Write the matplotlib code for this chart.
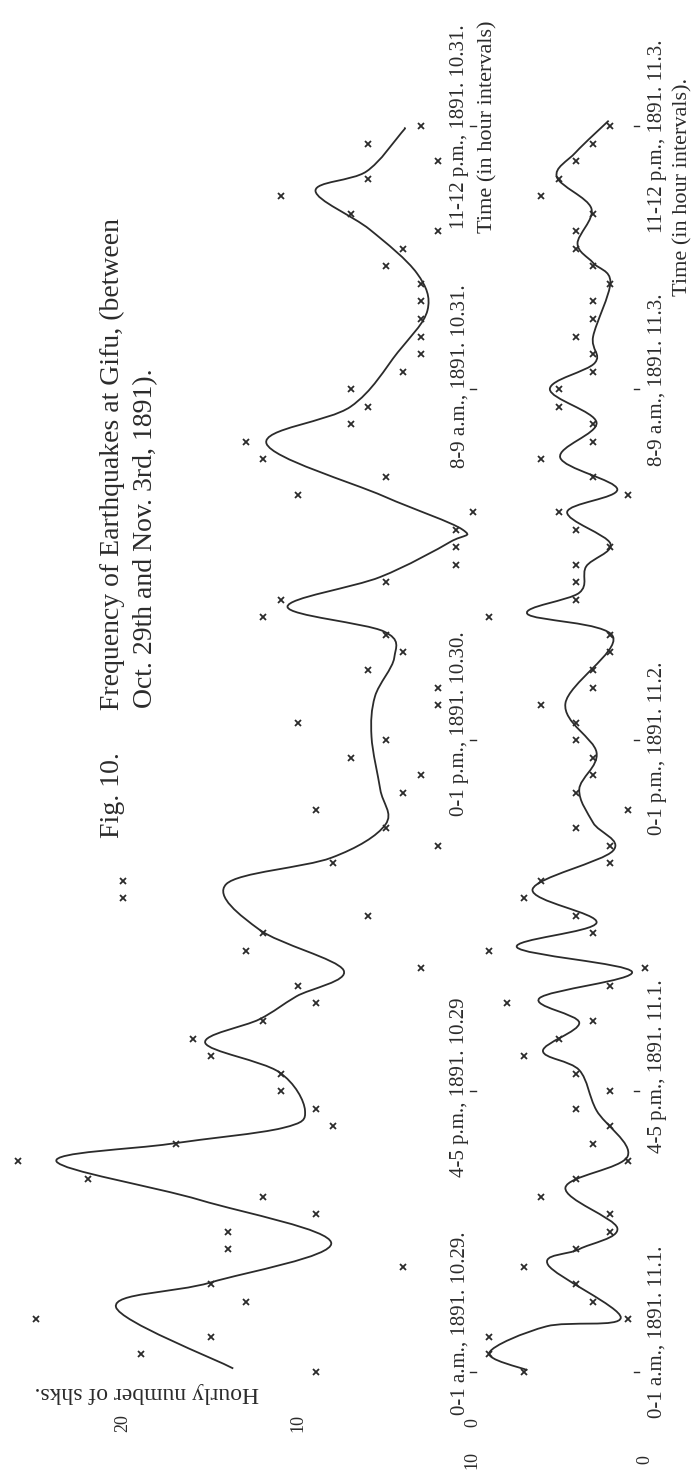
import numpy as np
import matplotlib
matplotlib.use("Agg")
import matplotlib.pyplot as plt
from matplotlib.path import Path
from matplotlib.patches import PathPatch

# hour index 0 = 0-1 a.m. on the first day of each run (72 hours per run)
hours = np.arange(72)

upper_counts = [9, 19, 15, 25, 13, 15, 4, 14, 14, 9, 12, 22, 26, 17, 8, 9, 11, 11,
                15, 16, 12, 9, 10, 3, 13, 12, 6, 20, 20, 8, 2, 5, 9, 4, 3, 7,
                5, 10, 2, 2, 6, 4, 5, 12, 11, 5, 1, 1, 1, 0, 10, 5, 12, 13,
                7, 6, 7, 4, 3, 3, 3, 3, 3, 5, 4, 2, 7, 11, 6, 2, 6, 3]
lower_counts = [7, 9, 9, 1, 3, 4, 7, 4, 2, 2, 6, 4, 1, 3, 2, 4, 2, 4,
                7, 5, 3, 8, 2, 0, 9, 3, 4, 7, 6, 2, 2, 4, 1, 4, 3, 3,
                4, 4, 6, 3, 3, 2, 2, 9, 4, 4, 4, 2, 4, 5, 1, 3, 6, 3,
                3, 5, 5, 3, 3, 4, 3, 3, 2, 3, 4, 4, 3, 6, 5, 4, 3, 2]

# hand-drawn smoothing curves (hour, count)
upper_curve_h = [0.2, 3.7, 5.1, 7.35, 9.8, 12.0, 13.0, 13.9, 14.9, 17.1, 18.75, 20.1,
                 21.4, 22.9, 25.2, 27.8, 29.3, 31.2, 33.2, 36.2, 38.5, 40.7, 42.2,
                 43.6, 45.3, 47.3, 48.0, 49.9, 52.9, 55.0, 58.1, 60.5, 62.6, 65.1,
                 67.3, 68.4, 70.6, 70.9]
upper_curve_v = [13.7, 20.4, 15.0, 8.1, 15.6, 23.8, 17.3, 10.9, 9.6, 11.1, 15.3, 12.2,
                 10.1, 7.4, 12.2, 14.1, 8.1, 5.0, 5.3, 5.8, 5.6, 4.5, 5.1,
                 10.6, 5.3, 1.3, 0.6, 5.1, 11.8, 7.0, 4.3, 2.6, 3.2, 5.9,
                 9.0, 6.1, 4.1, 3.9]
lower_curve_h = [0.1, 1.1, 2.6, 3.1, 6.1, 7.0, 8.2, 10.5, 12.3, 14.9, 17.2, 18.3, 19.9,
                 21.3, 22.8, 24.2, 25.6, 27.5, 29.7, 31.3, 33.2, 35.3, 38.1, 41.9,
                 43.2, 44.4, 45.9, 47.2, 49.0, 50.3, 52.1, 54.1, 56.0, 57.5, 59.0,
                 62.1, 63.2, 64.3, 66.3, 68.1, 69.5, 71.3]
lower_curve_v = [6.8, 9.0, 5.7, 1.4, 5.6, 3.8, 1.6, 4.6, 1.0, 2.8, 3.8, 5.9, 3.8,
                 6.1, 0.75, 7.4, 2.8, 6.5, 1.85, 3.0, 3.8, 2.8, 4.6, 1.85,
                 6.8, 3.8, 3.4, 2.0, 4.5, 1.6, 4.9, 2.8, 5.5, 2.9, 3.0,
                 2.0, 3.0, 3.9, 3.1, 5.1, 4.0, 2.1]

tick_hours = [0, 16, 36, 56, 71]
upper_labels = ["0-1 a.m., 1891. 10.29.", "4-5 p.m., 1891. 10.29", "0-1 p.m., 1891. 10.30.",
                "8-9 a.m., 1891. 10.31.", "11-12 p.m., 1891. 10.31."]
lower_labels = ["0-1 a.m., 1891. 11.1.", "4-5 p.m., 1891. 11.1.", "0-1 p.m., 1891. 11.2.",
                "8-9 a.m., 1891. 11.3.", "11-12 p.m., 1891. 11.3."]
# where each label text begins (in hours), they are not centred on the ticks
upper_label_start = [-2.45, 11.1, 31.7, 51.5, 65.1]
lower_label_start = [-2.6, 12.5, 30.6, 51.6, 64.9]

INK = "#2b2b2b"
SERIF = "Liberation Serif"


def smooth_path(xs, ys):
    pts = np.column_stack([xs, ys])
    verts = [pts[0]]
    codes = [Path.MOVETO]
    n = len(pts)
    for i in range(n - 1):
        p0 = pts[max(i - 1, 0)]
        p1 = pts[i]
        p2 = pts[i + 1]
        p3 = pts[min(i + 2, n - 1)]
        verts += [p1 + (p2 - p0) / 6.0, p2 - (p3 - p1) / 6.0, p2]
        codes += [Path.CURVE4] * 3
    return Path(verts, codes)


W, H = 697, 1481
fig = plt.figure(figsize=(W / 100, H / 100), dpi=100)

# time runs upward, counts increase to the left (the plate is printed sideways)
hour_lim = ((1372 - H) / 17.55, 1372 / 17.55)
ax_up = fig.add_axes([0, 0, 1, 1])
ax_up.set_xlim(473 / 17.5, (473 - W) / 17.5)
ax_up.set_ylim(*hour_lim)
ax_lo = fig.add_axes([0, 0, 1, 1])
ax_lo.set_xlim(645 / 17.3, (645 - W) / 17.3)
ax_lo.set_ylim(*hour_lim)
for ax in (ax_up, ax_lo):
    ax.set_axis_off()
    ax.patch.set_alpha(0)

for ax, counts, ch, cv in ((ax_up, upper_counts, upper_curve_h, upper_curve_v),
                           (ax_lo, lower_counts, lower_curve_h, lower_curve_v)):
    ax.add_patch(PathPatch(smooth_path(cv, ch), fill=False, edgecolor=INK, lw=1.3))
    ax.plot(counts, hours, ls="none", marker="x", ms=5, mew=1.3, color=INK)

# hour ticks and date labels
for h in tick_hours:
    ax_up.plot([-0.15, 0.15], [h, h], color=INK, lw=1)
    ax_lo.plot([0.35, 0.65], [h, h], color=INK, lw=1)
for lab, s in zip(upper_labels, upper_label_start):
    ax_up.text(0.75, s, lab, rotation=90, ha="center", va="bottom",
               family=SERIF, fontsize=15, color=INK)
for lab, s in zip(lower_labels, lower_label_start):
    ax_lo.text(-0.7, s, lab, rotation=90, ha="center", va="bottom",
               family=SERIF, fontsize=15, color=INK)
ax_up.text(-0.85, 64.9, "Time (in hour intervals)", rotation=90, ha="center", va="bottom",
           family=SERIF, fontsize=16, color=INK)
ax_lo.text(-2.2, 61.3, "Time (in hour intervals).", rotation=90, ha="center", va="bottom",
           family=SERIF, fontsize=16, color=INK)

# count scale labels
for v in (0, 10, 20):
    ax_up.text(v, -2.9, str(v), rotation=90, ha="center", va="center",
               family=SERIF, fontsize=13, color=INK)
for v in (0, 10):
    ax_lo.text(v, -5.0, str(v), rotation=90, ha="center", va="center",
               family=SERIF, fontsize=13, color=INK)

fig.text(147 / W, 1 - 1393 / H, "Hourly number of shks.", rotation=180,
         ha="center", va="center", family=SERIF, fontsize=17, color=INK)

fig.text(112 / W, 1 - 528 / H, "Fig. 10.      Frequency of Earthquakes at Gifu, (between",
         rotation=90, ha="center", va="center", family=SERIF, fontsize=20, color=INK)
fig.text(146 / W, 1 - 538 / H, "Oct. 29th and Nov. 3rd, 1891).",
         rotation=90, ha="center", va="center", family=SERIF, fontsize=20, color=INK)

fig.savefig("out.png", dpi=100, facecolor="white")
